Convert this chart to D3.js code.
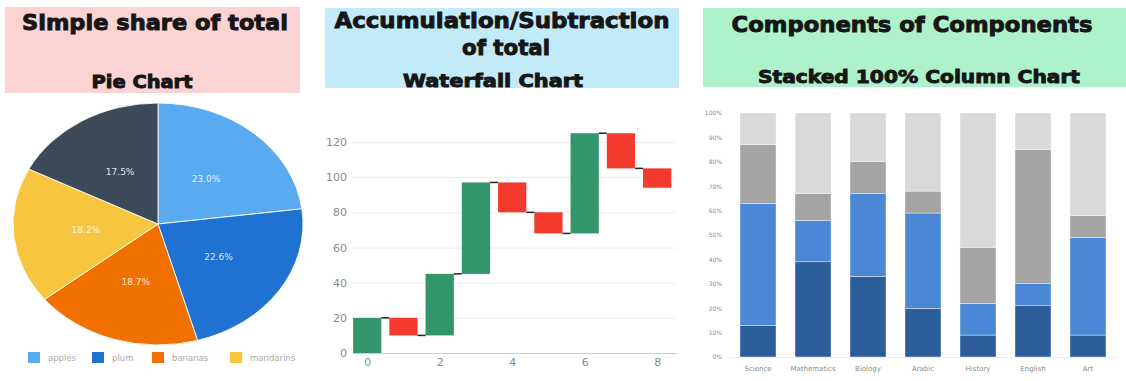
<!DOCTYPE html>
<html>
<head>
<meta charset="utf-8">
<script src="https://cdn.jsdelivr.net/npm/d3@7"></script>
<style>
  body { margin: 0; background: #fff; }
  svg { display: block; }
  .title { font-family: "DejaVu Sans", sans-serif; font-weight: bold; fill: #161616; stroke: #161616; stroke-width: 0.9; }
  .tick-label { font-family: "DejaVu Sans", sans-serif; fill: #8a8a8a; }
</style>
</head>
<body>
<svg id="chart" width="1126" height="381"></svg>
<script>
// pie data
var pieNames = ["apples", "plum", "bananas", "mandarins", "others"];
var pieValues = [23.0, 22.6, 18.7, 18.2, 17.5];
var legendNames = ["apples", "plum", "bananas", "mandarins"];

// waterfall data (change per step)
var waterSteps = [0, 1, 2, 3, 4, 5, 6, 7, 8];
var waterDeltas = [20, -10, 35, 52, -17, -12, 57, -20, -11];
var waterYTicks = [0, 20, 40, 60, 80, 100, 120];
var waterXTicks = [0, 2, 4, 6, 8];

// stacked 100% data, bottom to top
var stackCategories = ["Science", "Mathematics", "Biology", "Arabic", "History", "English", "Art"];
var stackSeries = ["s1", "s2", "s3", "s4"];
var stackS1 = [13, 39, 33, 20, 9, 21, 9];
var stackS2 = [50, 17, 34, 39, 13, 9, 40];
var stackS3 = [24, 11, 13, 9, 23, 55, 9];
var stackS4 = [13, 33, 20, 32, 55, 15, 42];
var stackYTicks = [0, 0.1, 0.2, 0.3, 0.4, 0.5, 0.6, 0.7, 0.8, 0.9, 1];

var svg = d3.select("#chart");

// ---- headers ----
var headers = [
  {x: 5, y: 7, w: 295, h: 86, fill: "#fbd3d3"},
  {x: 325, y: 8, w: 354, h: 80, fill: "#c2eaf8"},
  {x: 703, y: 8, w: 423, h: 79, fill: "#aef2cb"}
];
svg.selectAll("rect.header").data(headers).enter().append("rect")
  .attr("class", "header")
  .attr("x", function(d) { return d.x; })
  .attr("y", function(d) { return d.y; })
  .attr("width", function(d) { return d.w; })
  .attr("height", function(d) { return d.h; })
  .attr("fill", function(d) { return d.fill; });

var titles = [
  {t: "Simple share of total", x: 155, y: 30, s: 21, w: 266},
  {t: "Pie Chart", x: 142, y: 88, s: 17, w: 101},
  {t: "Accumulation/Subtraction", x: 502, y: 28, s: 21, w: 335},
  {t: "of total", x: 506, y: 55, s: 21, w: 88},
  {t: "Waterfall Chart", x: 493, y: 87, s: 17, w: 180},
  {t: "Components of Components", x: 912, y: 32, s: 21, w: 361},
  {t: "Stacked 100% Column Chart", x: 919, y: 83, s: 17, w: 322}
];
svg.selectAll("text.title").data(titles).enter().append("text")
  .attr("class", "title")
  .attr("x", function(d) { return d.x; })
  .attr("y", function(d) { return d.y; })
  .attr("text-anchor", "middle")
  .attr("font-size", function(d) { return d.s; })
  .attr("textLength", function(d) { return d.w; })
  .attr("lengthAdjust", "spacingAndGlyphs")
  .text(function(d) { return d.t; });

// ---- pie ----
var pieColors = ["#5aaaf0", "#1f72d2", "#f07100", "#f8c53e", "#3c4a57"];
var cx = 158, cy = 224, ry = 121, rx = 145;
var pie = d3.pie().sort(null);
var arcs = pie(pieValues);
var arc = d3.arc().innerRadius(0).outerRadius(ry);
var pieG = svg.append("g")
  .attr("transform", "translate(" + cx + "," + cy + ") scale(" + (rx / ry) + ",1)");
pieG.selectAll("path").data(arcs).enter().append("path")
  .attr("d", arc)
  .attr("fill", function(d, i) { return pieColors[i]; })
  .attr("stroke", "#fff")
  .attr("stroke-width", 0.8);
svg.selectAll("text.pie-label").data(arcs).enter().append("text")
  .attr("class", "pie-label")
  .attr("x", function(d) { return cx + arc.centroid(d)[0] * rx / ry; })
  .attr("y", function(d) { return cy + arc.centroid(d)[1] + 3; })
  .attr("text-anchor", "middle")
  .attr("font-family", "DejaVu Sans, sans-serif")
  .attr("font-size", 9)
  .attr("fill", "#fff")
  .attr("fill-opacity", 0.85)
  .text(function(d) { return d3.format(".1f")(d.data) + "%"; });

var legendX = [28, 92, 152, 230];
var legend = svg.selectAll("g.legend").data(legendNames).enter().append("g")
  .attr("class", "legend")
  .attr("transform", function(d, i) { return "translate(" + legendX[i] + ",352)"; });
legend.append("rect")
  .attr("width", 12).attr("height", 11)
  .attr("fill", function(d, i) { return pieColors[i]; });
legend.append("text")
  .attr("x", 20).attr("y", 9)
  .attr("font-family", "DejaVu Sans, sans-serif")
  .attr("font-size", 8.5)
  .attr("fill", "#aaa")
  .text(function(d) { return d; });

// ---- waterfall ----
var wx = d3.scaleLinear().domain([-0.42, 8.52]).range([352, 676]);
var wy = d3.scaleLinear().domain([0, 120]).range([353, 142]);
var barW = 0.78;
var running = 0;
var wfData = waterDeltas.map(function(d, i) {
  var start = running;
  running += d;
  return {step: waterSteps[i], start: start, end: running, delta: d};
});

var wg = svg.append("g");
var yAxisW = d3.axisLeft(wy).tickValues(waterYTicks).tickSize(-(676 - 352)).tickPadding(5);
var yAxisG = wg.append("g").attr("transform", "translate(352,0)").call(yAxisW);
yAxisG.select(".domain").remove();
yAxisG.selectAll("line").attr("stroke", "#eeeeee");
yAxisG.selectAll("text").attr("class", "tick-label").attr("font-size", 11).attr("fill", "#8a8a8a");

var xAxisW = d3.axisBottom(wx).tickValues(waterXTicks).tickSize(0).tickPadding(5);
var xAxisG = wg.append("g").attr("transform", "translate(0,353)").call(xAxisW);
xAxisG.select(".domain").attr("stroke", "#cfcfcf");
xAxisG.selectAll("text").attr("class", "tick-label").attr("font-size", 11).attr("fill", "#8a8a8a");

wg.selectAll("rect.wf").data(wfData).enter().append("rect")
  .attr("class", "wf")
  .attr("x", function(d) { return wx(d.step - barW / 2); })
  .attr("width", function(d) { return wx(barW) - wx(0); })
  .attr("y", function(d) { return wy(Math.max(d.start, d.end)); })
  .attr("height", function(d) { return Math.abs(wy(d.start) - wy(d.end)); })
  .attr("fill", function(d) { return d.delta >= 0 ? "#33956c" : "#f43a2c"; });

wg.selectAll("line.conn").data(wfData.slice(0, -1)).enter().append("line")
  .attr("class", "conn")
  .attr("x1", function(d) { return wx(d.step + barW / 2); })
  .attr("x2", function(d) { return wx(d.step + 1 - barW / 2); })
  .attr("y1", function(d) { return wy(d.end); })
  .attr("y2", function(d) { return wy(d.end); })
  .attr("stroke", "#222")
  .attr("stroke-width", 1.5);

// ---- stacked 100% columns ----
var stackColors = ["#2d5e9b", "#4a88d6", "#a4a4a4", "#d9d9d9"];
var stackRows = stackCategories.map(function(c, i) {
  var tot = stackS1[i] + stackS2[i] + stackS3[i] + stackS4[i];
  return {cat: c, s1: stackS1[i] / tot, s2: stackS2[i] / tot, s3: stackS3[i] / tot, s4: stackS4[i] / tot};
});
var stacked = d3.stack().keys(stackSeries)(stackRows);

var sx = d3.scaleBand().domain(stackCategories).range([729, 1117]).paddingInner(0.345).paddingOuter(0.2);
var sy = d3.scaleLinear().domain([0, 1]).range([357, 113]);

var sg = svg.append("g");
sg.selectAll("g.layer").data(stacked).enter().append("g")
  .attr("class", "layer")
  .attr("fill", function(d, i) { return stackColors[i]; })
  .selectAll("rect").data(function(d) { return d; }).enter().append("rect")
  .attr("x", function(d) { return sx(d.data.cat); })
  .attr("width", sx.bandwidth())
  .attr("y", function(d) { return sy(d[1]); })
  .attr("height", function(d) { return sy(d[0]) - sy(d[1]); })
  .attr("stroke", "#fff")
  .attr("stroke-width", 0.4);

var yAxisS = d3.axisLeft(sy).tickValues(stackYTicks).tickFormat(d3.format(".0%")).tickSize(0).tickPadding(0);
var ySG = sg.append("g").attr("transform", "translate(722,0)").call(yAxisS);
ySG.select(".domain").remove();
ySG.selectAll("text").attr("class", "tick-label").attr("font-size", 6).attr("fill", "#777");

var xAxisS = d3.axisBottom(sx).tickSize(0).tickPadding(9);
var xSG = sg.append("g").attr("transform", "translate(0,357)").call(xAxisS);
xSG.select(".domain").attr("stroke", "#ececec");
xSG.selectAll("text").attr("class", "tick-label").attr("font-size", 7).attr("fill", "#777");
</script>
</body>
</html>
